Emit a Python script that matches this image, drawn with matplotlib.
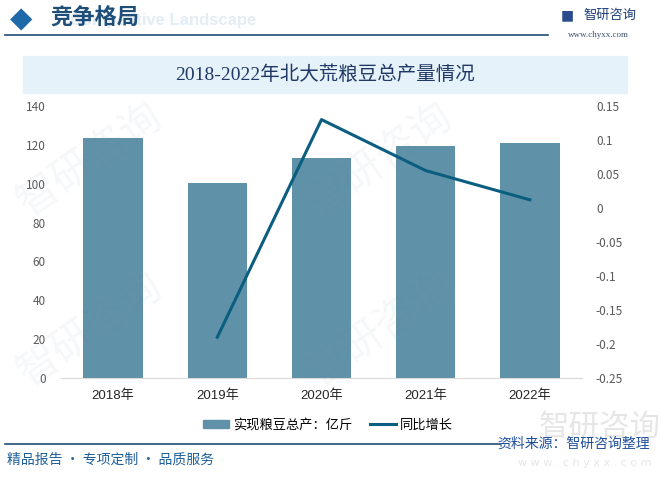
import matplotlib.pyplot as plt
from matplotlib.patches import Rectangle, Patch
from matplotlib.lines import Line2D
from matplotlib.ticker import FuncFormatter

plt.rcParams['font.family'] = ['Noto Sans CJK SC', 'DejaVu Sans']
plt.rcParams['axes.unicode_minus'] = False

# --- data ---
years = ['2018年', '2019年', '2020年', '2021年', '2022年']
output = [123.5, 100.4, 113.2, 119.4, 121.0]          # 实现粮豆总产：亿斤
growth_years = ['2019年', '2020年', '2021年', '2022年']
growth = [-0.190, 0.130, 0.055, 0.012]                # 同比增长

BAR_C = '#5f91a8'
LINE_C = '#0b5e80'
NAVY = '#1f4e79'

W, H = 667, 482
fig = plt.figure(figsize=(W / 100, H / 100), dpi=100)


def fx(px):
    return px / W


def fy(py):
    return 1 - py / H


# --- header ---
fig.text(fx(70), fy(20), 'Competitive Landscape', fontsize=12, weight='bold',
         family='Liberation Sans', color='#e3edf5', va='center', ha='left')
fig.text(fx(21), fy(19), '◆', fontsize=21, color='#1e6aa8', ha='center', va='center',
         family='DejaVu Sans')
fig.text(fx(50), fy(18), '竞争格局', fontsize=16, weight='bold', color=NAVY,
         va='center', ha='left')
fig.add_artist(Line2D([fx(5), fx(548)], [fy(35), fy(35)], color=NAVY, lw=1.2))
fig.text(fx(567), fy(15), '■', fontsize=10, color='#2b4c8c', ha='center', va='center',
         family='DejaVu Sans')
fig.text(fx(583), fy(15), '智研咨询', fontsize=9.5, color='#1f3f7a', va='center', ha='left')
fig.text(fx(598), fy(35), 'www.chyxx.com', fontsize=6.5, color='#3d4f6e',
         family='Liberation Serif', va='center', ha='center')

# --- title box ---
fig.add_artist(Rectangle((fx(23), fy(93)), fx(627) - fx(23), fy(56) - fy(93),
                         color='#e6f2fa', transform=fig.transFigure, zorder=0))
fig.text(fx(325), fy(75), '2018-2022年北大荒粮豆总产量情况', fontsize=14,
         color='#1f3864', ha='center', va='center', weight='medium',
         family=['Liberation Serif', 'Noto Sans CJK SC'])

# faint watermarks
for (wx, wy) in [(90, 160), (380, 160), (90, 330), (380, 330)]:
    fig.text(fx(wx), fy(wy), '智研咨询', fontsize=30, color='#6f8fb0', alpha=0.07,
             rotation=35, ha='center', va='center', zorder=0)

# --- axes ---
ax = fig.add_axes([fx(61), fy(378), fx(582) - fx(61), fy(106) - fy(378)])
ax.patch.set_alpha(0)
x = range(len(years))
ax.bar(x, output, width=0.57, color=BAR_C, zorder=2)
ax.set_ylim(0, 140)
ax.set_yticks(range(0, 141, 20))
ax.set_xlim(-0.5, len(years) - 0.5)
ax.set_xticks(list(x))
ax.set_xticklabels(years, fontsize=9.5, color='#262626',
                   family=['Liberation Sans', 'Noto Sans CJK SC'])
ax.tick_params(axis='y', length=0, labelsize=8.5, labelcolor='#595959', pad=11)
ax.tick_params(axis='x', length=0, pad=8)
for s in ['top', 'right', 'left']:
    ax.spines[s].set_visible(False)
ax.spines['bottom'].set_color('#d9d9d9')

ax2 = ax.twinx()
gx = [years.index(y) for y in growth_years]
ax2.plot(gx, growth, color=LINE_C, lw=2.2, solid_joinstyle='round', zorder=3)
ax2.set_ylim(-0.25, 0.15)
ax2.set_yticks([-0.25 + 0.05 * i for i in range(9)])
ax2.yaxis.set_major_formatter(FuncFormatter(lambda v, p: '0' if abs(v) < 1e-9 else f'{v:g}'))
ax2.tick_params(axis='y', length=0, labelsize=8.5, labelcolor='#595959', pad=10)
for s in ax2.spines.values():
    s.set_visible(False)

# --- legend ---
handles = [Patch(color=BAR_C), Line2D([0], [0], color=LINE_C, lw=2.2)]
fig.legend(handles, ['实现粮豆总产：亿斤', '同比增长'], loc='center',
           bbox_to_anchor=(fx(328), fy(425)), ncol=2, frameon=False, fontsize=9.5,
           handlelength=2.0, handleheight=0.6, columnspacing=1.3, handletextpad=0.3)

# --- footer ---
fig.text(fx(600), fy(427), '智研咨询', fontsize=22, color='#e6e6e6', ha='center',
         va='center', zorder=0)
fig.text(fx(585), fy(463), 'w w w . c h y x x . c o m', fontsize=8, color='#e6e6e6',
         ha='center', va='center', family='DejaVu Sans', zorder=0)
fig.add_artist(Line2D([fx(5), fx(500)], [fy(444), fy(444)], color=NAVY, lw=1.2))
fig.text(fx(650), fy(444), '资料来源：智研咨询整理', fontsize=10, color='#1f4e99',
         ha='right', va='center')
fig.text(fx(7), fy(460), '精品报告 · 专项定制 · 品质服务', fontsize=10, color='#1f5f99',
         ha='left', va='center')

fig.savefig('out.png', dpi=100)
